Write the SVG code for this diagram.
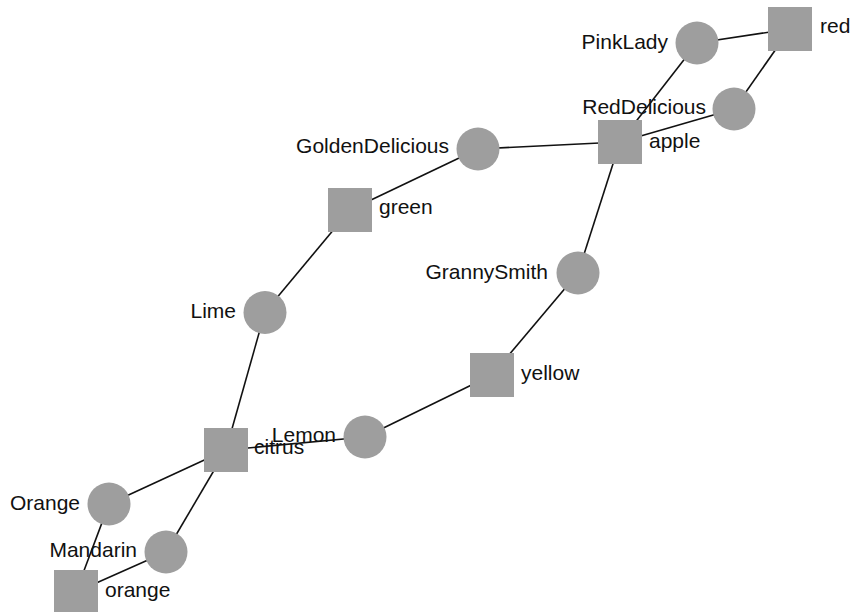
<svg xmlns="http://www.w3.org/2000/svg" width="852" height="612" viewBox="0 0 852 612">
<style>
.e{stroke:#111;stroke-width:1.6;fill:none}
.c{fill:#9e9e9e}
.s{fill:#9e9e9e}
text{font-family:"Liberation Sans",Arial,sans-serif;font-size:21px;fill:#111}
.r{text-anchor:end}
</style>
<rect width="852" height="612" fill="#fff"/>
<g id="edges">
<line class="e" x1="790" y1="29" x2="697" y2="43"/>
<line class="e" x1="790" y1="29" x2="734" y2="109"/>
<line class="e" x1="697" y1="43" x2="620" y2="142"/>
<line class="e" x1="734" y1="109" x2="620" y2="142"/>
<line class="e" x1="620" y1="142" x2="478" y2="149"/>
<line class="e" x1="620" y1="142" x2="578" y2="273"/>
<line class="e" x1="478" y1="149" x2="350" y2="210"/>
<line class="e" x1="350" y1="210" x2="265" y2="312"/>
<line class="e" x1="265" y1="312" x2="226" y2="450"/>
<line class="e" x1="578" y1="273" x2="492" y2="375"/>
<line class="e" x1="492" y1="375" x2="365" y2="437"/>
<line class="e" x1="365" y1="437" x2="226" y2="450"/>
<line class="e" x1="226" y1="450" x2="109" y2="504"/>
<line class="e" x1="226" y1="450" x2="166" y2="552"/>
<line class="e" x1="109" y1="504" x2="76" y2="592"/>
<line class="e" x1="166" y1="552" x2="76" y2="592"/>
</g>
<g id="red"><rect class="s" x="768" y="7" width="44" height="44"/><text x="820" y="33">red</text></g>
<g id="PinkLady"><circle class="c" cx="697" cy="43" r="21.5"/><text class="r" x="668" y="49">PinkLady</text></g>
<g id="RedDelicious"><circle class="c" cx="734" cy="109" r="21.5"/><text class="r" x="706" y="114">RedDelicious</text></g>
<g id="apple"><rect class="s" x="598" y="120" width="44" height="44"/><text x="649" y="148">apple</text></g>
<g id="GoldenDelicious"><circle class="c" cx="478" cy="149" r="21.5"/><text class="r" x="449" y="153">GoldenDelicious</text></g>
<g id="green"><rect class="s" x="328" y="188" width="44" height="44"/><text x="379" y="214">green</text></g>
<g id="GrannySmith"><circle class="c" cx="578" cy="273" r="21.5"/><text class="r" x="548" y="279">GrannySmith</text></g>
<g id="Lime"><circle class="c" cx="265" cy="312.5" r="21.5"/><text class="r" x="236" y="318">Lime</text></g>
<g id="yellow"><rect class="s" x="470" y="353" width="44" height="44"/><text x="521" y="380">yellow</text></g>
<g id="Lemon"><circle class="c" cx="365" cy="437" r="21.5"/><text class="r" x="336" y="442">Lemon</text></g>
<g id="citrus"><rect class="s" x="204" y="428" width="44" height="44"/><text x="254" y="454">citrus</text></g>
<g id="Orange"><circle class="c" cx="109" cy="504" r="21.5"/><text class="r" x="80" y="510">Orange</text></g>
<g id="Mandarin"><circle class="c" cx="166" cy="552" r="21.5"/><text class="r" x="137" y="557">Mandarin</text></g>
<g id="orange"><rect class="s" x="54" y="570" width="44" height="44"/><text x="105" y="597">orange</text></g>
</svg>
